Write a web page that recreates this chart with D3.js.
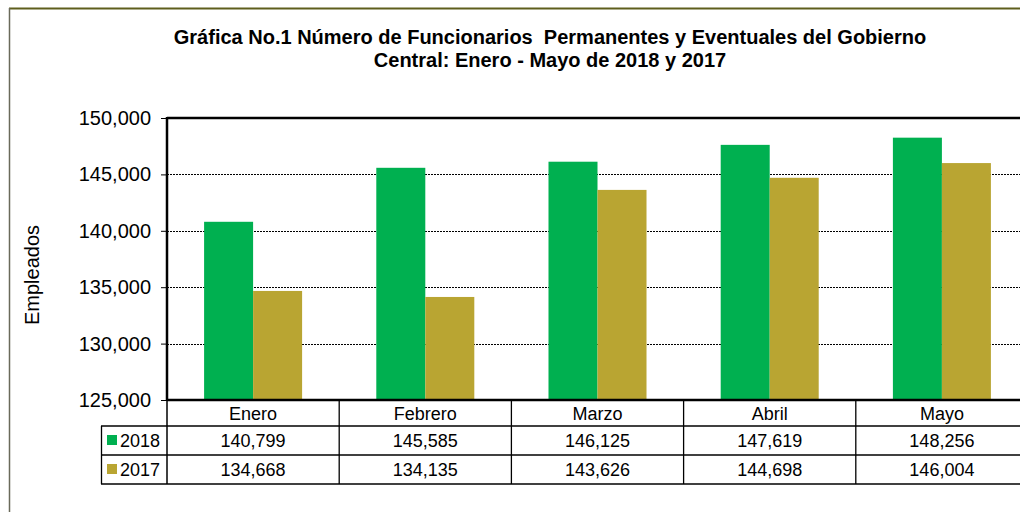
<!DOCTYPE html>
<html><head><meta charset="utf-8">
<script src="https://cdn.jsdelivr.net/npm/d3@7"></script>
<style>body{margin:0;background:#fff}svg{display:block;font-family:Arial,"Liberation Sans",sans-serif}</style>
</head><body><svg id="c" width="1020" height="512"></svg>
<script>
const months = ["Enero","Febrero","Marzo","Abril","Mayo"];
const seriesNames = ["2018","2017"];
const values2018 = [140799,145585,146125,147619,148256];
const values2017 = [134668,134135,143626,144698,146004];
const yTicks = [125000,130000,135000,140000,145000,150000];
const colors = ["#00b050","#b9a532"];
const titleLines = ["Gráfica No.1 Número de Funcionarios  Permanentes y Eventuales del Gobierno","Central: Enero - Mayo de 2018 y 2017"];
const yLabel = "Empleados";

const svg = d3.select("#c");
const fmt = d3.format(",");
const L=167, R=1028, T=118, B=400;
const rowH=[26,29,29];
const x = d3.scaleBand().domain(months).range([L,R]).paddingInner(0).paddingOuter(0);
const xs = d3.scaleBand().domain(seriesNames).range([0,x.bandwidth()]).paddingInner(0).paddingOuter(0.757);
const y = d3.scaleLinear().domain([125000,150000]).range([B,T]);
const data = [values2018, values2017];

// outer frame
svg.append("line").attr("x1",9).attr("x2",1020).attr("y1",8.5).attr("y2",8.5).attr("stroke","#5e5e1c").attr("stroke-width",2);
svg.append("line").attr("x1",9.5).attr("x2",9.5).attr("y1",8).attr("y2",512).attr("stroke","#6a6a5a").attr("stroke-width",1.5);

// title
svg.append("g").selectAll("text").data(titleLines).join("text")
  .attr("x",550).attr("y",(d,i)=>44+i*23).attr("text-anchor","middle")
  .style("white-space","pre").attr("xml:space","preserve")
  .attr("font-weight","bold").attr("font-size",20).attr("fill","#000").text(d=>d);

// gridlines
svg.append("g").selectAll("line").data(yTicks.filter(t=>t>125000&&t<150000)).join("line")
  .attr("x1",L).attr("x2",R).attr("y1",d=>Math.round(y(d))+0.5).attr("y2",d=>Math.round(y(d))+0.5)
  .attr("stroke","#000").attr("stroke-width",1).attr("stroke-dasharray","2,1");

// bars
seriesNames.forEach((s,si)=>{
  svg.append("g").selectAll("rect").data(data[si]).join("rect")
    .attr("x",(d,i)=>x(months[i])+xs(s)).attr("width",xs.bandwidth())
    .attr("y",d=>y(d)).attr("height",d=>B-y(d)).attr("fill",colors[si]);
});

// y axis
const yAxis = d3.axisLeft(y).tickValues(yTicks).tickFormat(fmt).tickSize(6).tickPadding(10);
const gy = svg.append("g").attr("transform",`translate(${L},0)`).call(yAxis);
gy.select(".domain").remove();
gy.selectAll("text").attr("font-size",20).attr("fill","#000").attr("font-family","Arial, Liberation Sans, sans-serif");
gy.selectAll(".tick line").attr("stroke","#000");

// plot border
svg.append("line").attr("x1",L).attr("x2",1020).attr("y1",T).attr("y2",T).attr("stroke","#000").attr("stroke-width",2.5);
svg.append("line").attr("x1",L).attr("x2",1020).attr("y1",B).attr("y2",B).attr("stroke","#000").attr("stroke-width",2.5);
svg.append("line").attr("x1",L).attr("x2",L).attr("y1",T-1).attr("y2",B).attr("stroke","#000").attr("stroke-width",2.5);

// y label
svg.append("text").attr("transform","translate(39,275) rotate(-90)").attr("text-anchor","middle")
  .attr("font-size",20).attr("fill","#000").text(yLabel);

// data table
const y1=B, y2=B+rowH[0], y3=y2+rowH[1], y4=y3+rowH[2];
const tbl = svg.append("g").attr("stroke","#000").attr("stroke-width",1.3);
tbl.append("line").attr("x1",L).attr("x2",L).attr("y1",B).attr("y2",y4).attr("stroke-width",1.5);
tbl.selectAll(".v").data(months).join("line").attr("class","v")
  .attr("x1",d=>x(d)+x.bandwidth()).attr("x2",d=>x(d)+x.bandwidth()).attr("y1",y1).attr("y2",y4);
[y2,y3,y4].forEach(yy=>tbl.append("line").attr("x1",101).attr("x2",1020).attr("y1",yy).attr("y2",yy));
tbl.append("line").attr("x1",101.5).attr("x2",101.5).attr("y1",y2).attr("y2",y4);

svg.append("g").selectAll("text").data(months).join("text")
  .attr("x",d=>x(d)+x.bandwidth()/2).attr("y",y1+20).attr("text-anchor","middle")
  .attr("font-size",18).attr("fill","#000").text(d=>d);
const rowsY=[y2,y3];
seriesNames.forEach((s,si)=>{
  const g = svg.append("g");
  g.selectAll("text").data(data[si]).join("text")
    .attr("x",(d,i)=>x(months[i])+x.bandwidth()/2).attr("y",rowsY[si]+21).attr("text-anchor","middle")
    .attr("font-size",18).attr("fill","#000").text(d=>fmt(d));
  g.append("rect").attr("x",107).attr("y",rowsY[si]+9).attr("width",10).attr("height",10).attr("fill",colors[si]);
  g.append("text").attr("x",120).attr("y",rowsY[si]+21).attr("font-size",18).attr("fill","#000").text(s);
});
</script></body></html>
